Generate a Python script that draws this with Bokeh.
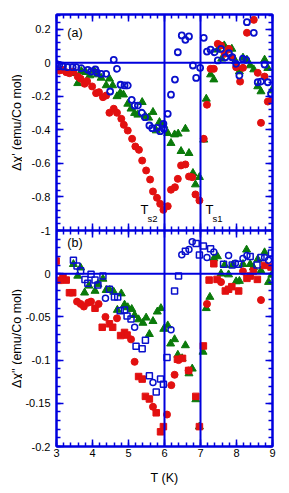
import math
from bokeh.plotting import figure
from bokeh.layouts import row
from bokeh.models import LinearAxis, Span, FixedTicker, CustomJSTickFormatter, Range1d, Label
from bokeh.core.properties import value
from bokeh.embed import file_html
from bokeh.resources import INLINE

# ---------------- data: panel (a)  Δχ' ----------------
blue_a_T = [2.99,3.08,3.18,3.31,3.45,3.55,3.69,3.87,3.96,4.08,4.12,4.24,4.38,4.49,4.59,4.68,4.78,4.89,4.98,5.09,
            5.17,5.26,5.37,5.46,5.58,5.66,5.79,5.88,5.97,5.98,6.09,6.18,6.29,6.37,6.48,6.58,6.68,6.79,6.88,6.99,
            7.09,7.18,7.28,7.39,7.48,7.57,7.69,7.79,7.88,7.99,8.08,8.18,8.27,8.29,8.48,8.59,8.68,8.78,8.87,8.96]
blue_a_v = [-0.006,-0.012,-0.022,-0.026,-0.026,-0.026,-0.032,-0.042,-0.052,-0.040,-0.058,-0.066,-0.066,-0.171,0.018,-0.036,-0.131,-0.135,-0.135,-0.221,
            -0.255,-0.255,-0.298,-0.324,-0.374,-0.39,-0.388,-0.408,-0.364,-0.394,-0.304,-0.19,-0.10,0.063,0.163,0.137,0.157,-0.016,-0.09,-0.03,
            0.149,0.067,0.078,0.063,0.014,0.083,0.033,0.057,0.033,-0.006,-0.076,0.024,0.018,0.242,0.179,-0.116,-0.112,-0.01,-0.116,-0.185]

red_a_T = [3.0,3.08,3.17,3.27,3.36,3.47,3.59,3.67,3.78,3.85,3.99,4.10,4.18,4.29,4.38,4.47,4.59,4.68,4.80,4.87,
           4.98,5.10,5.19,5.29,5.38,5.49,5.60,5.68,5.79,5.88,5.97,6.09,6.18,6.29,6.37,6.46,6.58,6.68,6.77,6.86,
           6.97,7.09,7.18,7.28,7.37,7.48,7.57,7.67,7.79,7.88,7.99,8.10,8.18,8.29,8.48,8.59,8.68,8.78,8.87,8.98]
red_a_v = [-0.042,-0.046,-0.042,-0.056,-0.062,-0.052,-0.082,-0.095,-0.125,-0.11,-0.141,-0.181,-0.175,-0.205,-0.195,-0.298,-0.274,-0.298,-0.334,-0.37,
           -0.404,-0.453,-0.499,-0.519,-0.583,-0.642,-0.696,-0.767,-0.805,-0.841,-0.877,-0.855,-0.757,-0.742,-0.692,-0.612,-0.606,-0.678,-0.682,-0.785,
           -0.821,-0.453,-0.25,-0.036,-0.036,0.113,0.103,0.054,0.083,0.033,-0.026,-0.112,-0.03,0.179,0.256,-0.06,-0.358,-0.082,-0.231,-0.221]

green_a_T = [3.45,3.59,3.69,3.81,3.92,4.04,4.13,4.24,4.38,4.47,4.56,4.68,4.77,4.86,4.98,5.07,5.17,5.26,5.38,5.47,
             5.56,5.68,5.77,5.86,5.98,6.09,6.18,6.28,6.38,6.46,6.58,6.68,6.79,6.86,6.97,7.09,7.16,7.28,7.37,7.48,
             7.59,7.66,7.76,7.87,7.97,8.08,8.18,8.29,8.38,8.48,8.59,8.68,8.78,8.87,8.98]
green_a_v = [-0.062,-0.122,-0.05,-0.056,-0.076,-0.046,-0.07,-0.09,-0.135,-0.095,-0.135,-0.20,-0.18,-0.19,-0.245,-0.274,-0.30,-0.31,-0.235,-0.32,
             -0.328,-0.294,-0.404,-0.354,-0.374,-0.42,-0.479,-0.428,-0.423,-0.527,-0.394,-0.539,-0.658,-0.726,-0.682,-0.459,-0.215,-0.07,-0.10,0.078,
             0.024,0.103,0.078,0.083,0.01,-0.052,0.03,0.018,-0.016,-0.04,-0.141,-0.171,0.018,-0.032,-0.165]

# ---------------- data: panel (b)  Δχ'' ----------------
red_sq_T = [2.99,3.08,3.18,3.27,3.36,3.45,4.07,4.27,4.47,4.56,4.78,4.89,4.96,5.28,5.38,5.47,5.58,5.77,5.89,5.97,
            6.36,6.50,6.67,6.87,6.97,7.08,7.24,7.37,7.46,7.69,7.78,7.87,8.06,8.29,8.38,8.47,8.58,8.78,8.96]
red_sq_v = [0.0146,-0.0077,-0.0043,-0.0074,-0.022,-0.022,-0.040,-0.062,-0.058,-0.062,-0.0716,-0.068,-0.071,-0.119,-0.122,-0.142,-0.145,-0.161,-0.183,-0.177,
            -0.099,-0.098,-0.112,-0.142,-0.177,-0.0836,-0.0074,0.0115,-0.0066,-0.020,-0.018,-0.015,-0.020,-0.0054,-0.0027,0.003,-0.0066,0.0096,0.0077]

red_ci_T = [3.57,3.67,3.76,3.88,3.96,4.17,4.36,4.68,5.07,5.17,5.68,6.07,6.19,6.28,6.39,6.67,7.18,7.57,8.18,8.68]
red_ci_v = [-0.0323,-0.035,-0.038,-0.0335,-0.0323,-0.035,-0.050,-0.0516,-0.076,-0.102,-0.154,-0.163,-0.129,-0.117,-0.100,-0.112,-0.035,-0.0097,0.0027,-0.0305]

blue_sq_T = [3.47,3.57,3.67,3.79,3.87,3.96,4.07,4.15,4.29,4.47,4.61,4.70,4.77,4.89,4.96,5.07,5.21,5.38,5.47,5.58,
             5.77,5.89,5.97,6.07,6.28,6.39,6.58,6.88,6.97,7.08,7.28,7.64,7.88,8.06,8.38,8.57,8.68,8.97]
blue_sq_v = [0.0157,0.0088,0.0035,-0.0066,-0.011,-0.0005,-0.0074,-0.013,-0.0028,-0.018,-0.027,-0.027,-0.043,-0.042,-0.049,-0.0524,-0.084,-0.087,-0.077,-0.118,
             -0.137,-0.122,-0.128,-0.097,-0.020,-0.0027,0.026,0.035,0.0215,0.032,0.029,0.011,0.010,0.011,0.020,0.010,0.0188,0.024]

blue_ci_T = [4.36,5.17,5.68,6.18,6.48,6.68,6.77,7.18,7.37,7.78,7.97,8.18,8.29,8.78,8.89]
blue_ci_v = [-0.0285,-0.062,-0.126,-0.065,0.022,0.028,0.037,0.0188,0.025,0.021,0.012,0.0177,0.021,0.0188,0.0157]

green_b_T = [3.47,3.59,3.67,3.78,3.90,4.07,4.15,4.29,4.38,4.48,4.59,4.69,4.80,4.89,4.98,5.09,5.17,5.28,5.40,5.49,
             5.58,5.68,5.80,5.90,5.98,6.09,6.17,6.28,6.37,6.49,6.58,6.68,6.77,6.87,6.97,7.07,7.16,7.26,7.37,7.47,
             7.57,7.67,7.78,7.89,7.99,8.08,8.18,8.28,8.38,8.47,8.59,8.68,8.78,8.89,8.98]
green_b_v = [0.011,-0.0025,0.007,-0.022,-0.014,-0.020,-0.012,-0.006,-0.019,-0.019,-0.021,-0.042,-0.023,-0.036,-0.039,-0.041,-0.048,-0.053,-0.057,-0.051,
             -0.070,-0.055,-0.044,-0.040,-0.064,-0.060,-0.081,-0.076,-0.094,-0.098,-0.083,-0.1155,-0.110,-0.1455,-0.177,-0.0905,-0.040,-0.027,0.0177,0.020,
             0.0,0.010,-0.001,0.010,-0.009,-0.0085,0.011,0.0277,0.011,0.0073,0.0165,0.0035,0.0246,-0.0097,-0.0014]

# ticks / ranges
x_major = [3, 4, 5, 6, 7, 8, 9]
a_major = [0.2, 0, -0.2, -0.4, -0.6, -0.8, -1.0]
b_major = [0, -0.05, -0.1, -0.15, -0.2]
T_lines = [6, 7]
A_LO, A_HI = -1.0, 0.288      # panel (a) range
B_LO, B_HI = -0.2, 0.05       # panel (b) range
title_a = "\u0394\u03c7' (emu/Co mol)"
title_b = "\u0394\u03c7'' (emu/Co mol)"

# ---------------- styling ----------------
AX = "#0000dd"
RED = "#e21010"
BLU = "#0a10cc"
GRN = "#0a7a0a"
FONT = "Liberation Sans"

x_minor = [3 + i * 0.2 for i in range(31)]
a_minor = [-1 + i * 0.04 for i in range(33)]
b_minor = [-0.2 + i * 0.01 for i in range(26)]

# one frame, two stacked panels: (a) uses the default y range (top half),
# (b) uses the extra range "b" (bottom half)
span_a = A_HI - A_LO
span_b = B_HI - B_LO
A_BASE = A_LO - span_a
K = span_a / span_b


def b_to_a(v):
    # position of a panel-(b) value on the default (panel a) scale
    return A_BASE + (v - B_LO) * K


y_ticks = a_major + [b_to_a(v) for v in b_major]
y_minor = a_minor + [b_to_a(v) for v in b_minor]

yfmt = CustomJSTickFormatter(args=dict(lo=A_LO, base=A_BASE, blo=B_LO, k=K), code="""
let v = tick;
if (tick < lo - 1e-9) { v = blo + (tick - base) / k; }
return (Math.round(v*10000)/10000).toString();
""")
xfmt = CustomJSTickFormatter(code="return (Math.round(tick*10000)/10000).toString();")


def style_axis(ax, labels=True, both=False):
    ax.axis_line_color = AX
    ax.axis_line_width = 2
    ax.major_tick_line_color = AX
    ax.minor_tick_line_color = AX
    ax.major_tick_line_width = 1.5
    ax.minor_tick_line_width = 1.5
    ax.major_tick_in = 7
    ax.major_tick_out = 7 if both else 0
    ax.minor_tick_in = 4
    ax.minor_tick_out = 4 if both else 0
    ax.major_label_text_font = FONT
    ax.axis_label_text_font = FONT
    ax.axis_label_text_font_style = "normal"
    ax.axis_label_text_color = "black"
    ax.axis_label_text_font_size = "12.5px"
    if labels:
        ax.major_label_text_color = "black"
        ax.major_label_text_font_size = "11px"
    else:
        ax.major_label_text_color = None
        ax.major_label_text_font_size = "0px"
        ax.major_label_standoff = 0


p = figure(frame_width=216, frame_height=432,
           x_range=Range1d(3, 9),
           y_range=Range1d(A_BASE, A_HI),
           extra_y_ranges={"b": Range1d(B_LO, B_HI + span_b)},
           output_backend="svg", toolbar_location=None,
           x_axis_location=None, y_axis_location=None,
           min_border_left=33, min_border_right=10, min_border_top=14, min_border_bottom=30,
           background_fill_color="white", border_fill_color="white")
p.grid.visible = False
p.outline_line_color = AX
p.outline_line_width = 2

xt = FixedTicker(ticks=x_major, minor_ticks=x_minor)
yt = FixedTicker(ticks=y_ticks, minor_ticks=y_minor)

left = LinearAxis(ticker=yt, formatter=yfmt)
style_axis(left, True)
left.major_label_standoff = 6
p.add_layout(left, "left")

right = LinearAxis(ticker=yt, formatter=yfmt)
style_axis(right, False)
p.add_layout(right, "right")

above = LinearAxis(ticker=xt, formatter=xfmt)
style_axis(above, False)
p.add_layout(above, "above")

mid = LinearAxis(ticker=xt, formatter=xfmt, fixed_location=A_LO)
style_axis(mid, False, both=True)
p.add_layout(mid, "below")

below = LinearAxis(ticker=xt, formatter=xfmt, axis_label="T (K)")
style_axis(below, True)
below.major_label_standoff = 2
below.axis_label_standoff = 11
p.add_layout(below, "below")

p.add_layout(Span(location=0, dimension="width", line_color=AX, line_width=2))
p.add_layout(Span(location=0, dimension="width", line_color=AX, line_width=2, y_range_name="b"))
p.add_layout(Span(location=A_LO, dimension="width", line_color=AX, line_width=2))
for t in T_lines:
    p.add_layout(Span(location=t, dimension="height", line_color=AX, line_width=2))

# ---------------- panel (a) marks ----------------
p.scatter(green_a_T, green_a_v, marker="triangle", size=8, fill_color=GRN, line_color=GRN)
p.scatter(red_a_T, red_a_v, marker="circle", size=7, fill_color=RED, line_color=RED)
p.scatter(blue_a_T, blue_a_v, marker="circle", size=6, fill_color=None, line_color=BLU, line_width=1.8)

# ---------------- panel (b) marks ----------------
p.scatter(green_b_T, green_b_v, marker="triangle", size=8, fill_color=GRN, line_color=GRN, y_range_name="b")
p.scatter(red_sq_T, red_sq_v, marker="square", size=6.5, fill_color=RED, line_color=RED, y_range_name="b")
p.scatter(red_ci_T, red_ci_v, marker="circle", size=7, fill_color=RED, line_color=RED, y_range_name="b")
p.scatter(blue_sq_T, blue_sq_v, marker="square", size=6, fill_color=None, line_color=BLU, line_width=1.5, y_range_name="b")
p.scatter(blue_ci_T, blue_ci_v, marker="circle", size=6, fill_color=None, line_color=BLU, line_width=1.5, y_range_name="b")

# ---------------- texts in the frame ----------------
p.add_layout(Label(x=3.3, y=0.18, text="(a)", text_font=FONT, text_font_size="12.5px",
                   text_baseline="middle", text_color="black"))
p.add_layout(Label(x=3.3, y=0.036, y_range_name="b", text="(b)", text_font=FONT, text_font_size="12.5px",
                   text_baseline="middle", text_color="black"))
p.add_layout(Label(x=5.33, y=-0.922, text="T", text_font=FONT, text_font_size="13px", text_color="black"))
p.add_layout(Label(x=5.53, y=-0.962, text="s2", text_font=FONT, text_font_size="9.5px", text_color="black"))
p.add_layout(Label(x=7.14, y=-0.922, text="T", text_font=FONT, text_font_size="13px", text_color="black"))
p.add_layout(Label(x=7.33, y=-0.962, text="s1", text_font=FONT, text_font_size="9.5px", text_color="black"))

# ---------------- y titles: narrow strip to the left, same vertical scales ----------------
tf = figure(frame_width=22, frame_height=432, x_range=Range1d(0, 22),
            y_range=p.y_range, extra_y_ranges={"b": p.extra_y_ranges["b"]},
            output_backend="svg", toolbar_location=None,
            x_axis_location=None, y_axis_location=None,
            min_border_left=0, min_border_right=0, min_border_top=14, min_border_bottom=0,
            background_fill_color="white", border_fill_color="white")
tf.grid.visible = False
tf.outline_line_color = None
tf.text(x=[16], y=[(A_LO + A_HI) / 2], text=[title_a], angle=math.pi / 2,
        text_align="center", text_baseline="middle", text_font=value(FONT),
        text_font_size="12.5px", text_color="black")
tf.text(x=[16], y=[(B_LO + B_HI) / 2], text=[title_b], angle=math.pi / 2, y_range_name="b",
        text_align="center", text_baseline="middle", text_font=value(FONT),
        text_font_size="12.5px", text_color="black")

layout = row(tf, p, spacing=0)
open("out.html", "w").write(file_html(layout, INLINE))
